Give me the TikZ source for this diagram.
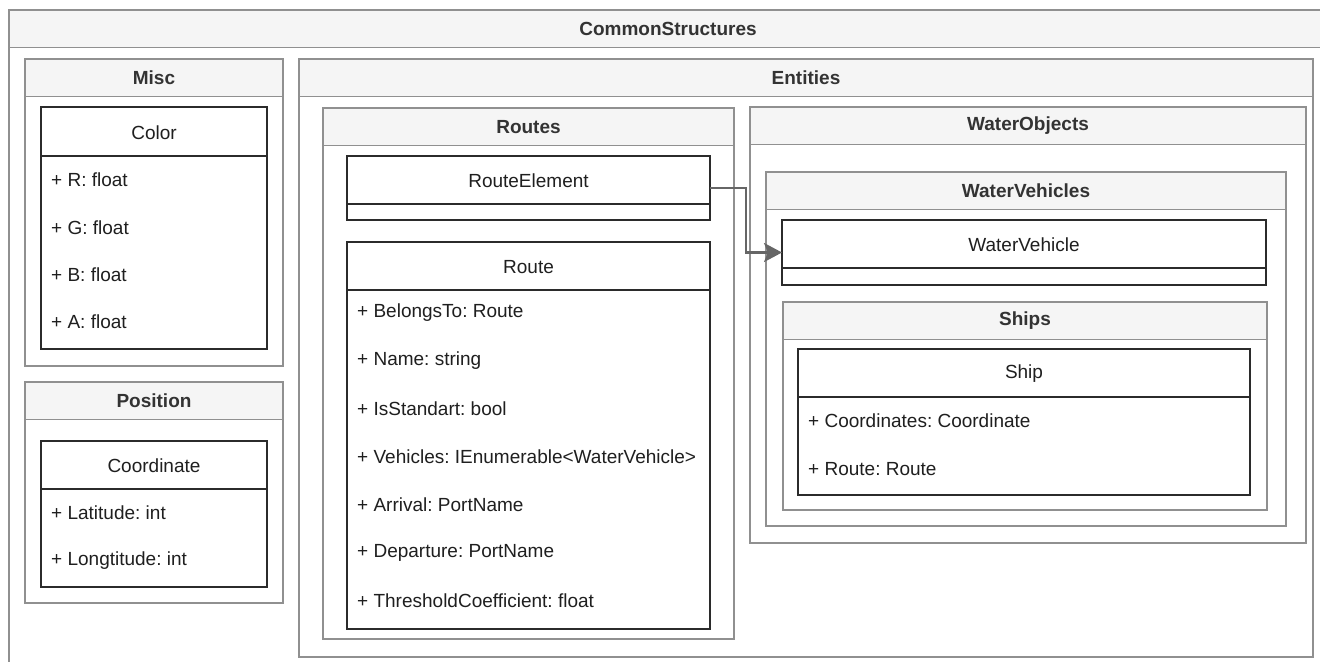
\documentclass[tikz,border=0pt]{standalone}
\usepackage{fontspec}
\setmainfont{Liberation Sans}
\usetikzlibrary{arrows.meta}
\frenchspacing

\definecolor{lanegray}{HTML}{909090}
\definecolor{hdrfill}{HTML}{F5F5F5}
\definecolor{titletext}{HTML}{333333}
\definecolor{classline}{HTML}{2B2B2B}
\definecolor{classtext}{HTML}{1F1F1F}
\definecolor{linkgray}{HTML}{666666}

\tikzset{
  lane/.style={draw=lanegray, line width=1.4bp},
  lanehead/.style={lane, fill=hdrfill},
  lanetitle/.style={font=\bfseries\fontsize{19bp}{22bp}\selectfont, text=titletext, inner sep=0pt},
  classbox/.style={draw=classline, line width=1.6bp, fill=white, rectangle, inner sep=0pt, outer sep=0pt, anchor=north west},
  classdiv/.style={draw=classline, line width=1.6bp},
  classname/.style={font=\fontsize{19bp}{22bp}\selectfont, text=classtext, inner sep=0pt},
  member/.style={font=\fontsize{19bp}{22bp}\selectfont, text=classtext, anchor=west, inner sep=0pt},
  link/.style={draw=linkgray, line width=2.6bp, -{Stealth[length=18bp, width=19bp, inset=4bp]}}
}

% package container: name, x1, y1, x2, y2, title (header band 37.5 high)
\newcommand\lanebox[6]{%
  \draw[lane] (#2,#3) rectangle (#4,#5);
  \draw[lanehead] (#2,#3) rectangle (#4,#3+37.5);
  \node[lanetitle] (#1) at ({(#2+#4)/2},#3+19) {#6};
}
% class box: name, x1, y1, x2, y2, divider y, class name
\newcommand\classbox[7]{%
  \node[classbox, minimum width={(#4-#2)*1bp}, minimum height={(#5-#3)*1bp}] (#1) at (#2,#3) {};
  \draw[classdiv] (#2,#6) -- (#4,#6);
  \node[classname] (#1-name) at ({(#2+#4)/2},{(#3+#6)/2+1}) {#7};
}

\begin{document}
\begin{tikzpicture}[x=1bp, y=-1bp]
\useasboundingbox (0,0) rectangle (1320,661);

% packages
\lanebox{common}{9}{10}{1327}{672}{CommonStructures}
\lanebox{misc}{25}{59}{283}{366}{Misc}
\lanebox{position}{25}{382}{283}{603}{Position}
\lanebox{entities}{299}{59}{1313}{657}{Entities}
\lanebox{routes}{323}{108}{734}{639}{Routes}
\lanebox{waterobjects}{750}{107}{1306}{543}{WaterObjects}
\lanebox{watervehicles}{766}{172}{1286}{526}{WaterVehicles}
\lanebox{ships}{783}{302}{1267}{510}{Ships}

% classes
\classbox{color}{41}{107}{267}{349}{156}{Color}
\node[member] (color-r) at (51,180) {+ R: float};
\node[member] (color-g) at (51,228) {+ G: float};
\node[member] (color-b) at (51,275) {+ B: float};
\node[member] (color-a) at (51,322) {+ A: float};

\classbox{coord}{41}{441}{267}{587}{489}{Coordinate}
\node[member] (coord-lat) at (51,513) {+ Latitude: int};
\node[member] (coord-lon) at (51,561) {+ Longtitude: int};

\classbox{re}{347}{156}{710}{220}{204}{RouteElement}

\classbox{route}{347}{242}{710}{629}{290}{Route}
\node[member] (route-1) at (357,313) {+ BelongsTo: Route};
\node[member] (route-2) at (357,361) {+ Name: string};
\node[member] (route-3) at (357,409) {+ IsStandart: bool};
\node[member] (route-4) at (357,457) {+ Vehicles: IEnumerable<WaterVehicle>};
\node[member] (route-5) at (357,505) {+ Arrival: PortName};
\node[member] (route-6) at (357,553) {+ Departure: PortName};
\node[member] (route-7) at (357,601) {+ ThresholdCoefficient: float};

\classbox{wv}{782}{220}{1266}{285}{268}{WaterVehicle}
\draw[classline, line width=2.4bp] (wv.north west) rectangle (wv.south east);

\classbox{ship}{798}{349}{1250}{495}{397}{Ship}
\node[member] (ship-1) at (808,421) {+ Coordinates: Coordinate};
\node[member] (ship-2) at (808,469) {+ Route: Route};

% association
\draw[link] (re.east) -- ++(36,0) |- (wv.west);
\end{tikzpicture}
\end{document}
